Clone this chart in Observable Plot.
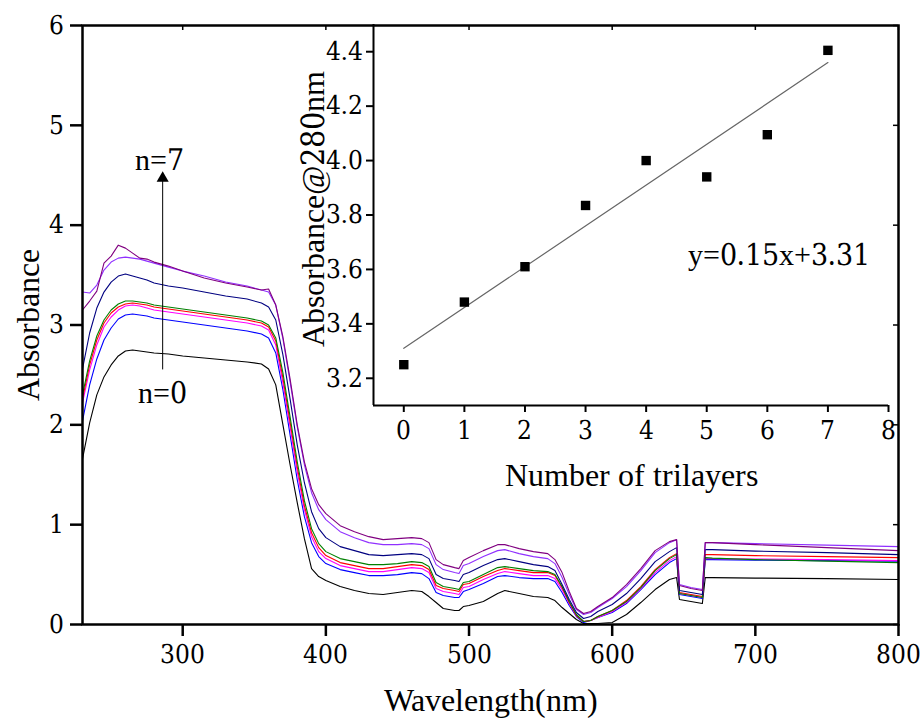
<!DOCTYPE html>
<html><head><meta charset="utf-8">
<script src="https://cdn.jsdelivr.net/npm/d3@7"></script>
<script src="https://cdn.jsdelivr.net/npm/@observablehq/plot@0.6"></script>
<style>
@font-face { font-family: "ChartSerif"; src: local("Liberation Serif"), local("LiberationSerif"), local("LiberationSerif-Regular"); unicode-range: U+0000-002F, U+003A-FFFF; }
@font-face { font-family: "ChartSerif"; src: local("DejaVu Serif Condensed"), local("DejaVuSerifCondensed"), local("DejaVu Serif"), local("DejaVuSerif"); unicode-range: U+0030-0039; }
body{margin:0;background:#fff;}
#wrap{position:relative;width:920px;height:720px;}
#wrap svg{position:absolute;}
</style></head><body><div id="wrap"></div>
<script>
// ---- main spectra ----
const wavelengths = [230,235,240,245,250,255,260,265,270,275,280,290,300,315,330,345,355,360,365,370,375,380,385,390,395,400,410,420,430,440,450,460,467,472,477,482,490,493,496,500,510,520,525,535,545,555,560,565,570,575,580,585,590,600,610,620,630,640,645,647,655,663,665,670,700,750,800];
const seriesNames = ["n=0","n=1","n=2","n=3","n=4","n=5","n=6","n=7"];
const seriesColors = ["#000000","#0000ff","#ff00ff","#ff0000","#008000","#000080","#9030ff","#800080"];
const absN0 = [1.66,2.02,2.3,2.48,2.6,2.69,2.74,2.75,2.74,2.73,2.72,2.71,2.69,2.67,2.65,2.63,2.61,2.56,2.4,2.0,1.6,1.22,0.86,0.56,0.48,0.44,0.38,0.34,0.31,0.3,0.32,0.34,0.33,0.28,0.22,0.16,0.14,0.14,0.18,0.19,0.23,0.31,0.34,0.31,0.28,0.27,0.24,0.17,0.11,0.05,0.01,0.01,0.01,0.02,0.1,0.22,0.35,0.45,0.47,0.25,0.23,0.21,0.47,0.47,0.465,0.46,0.45];
const absN1 = [2.04,2.4,2.66,2.85,2.97,3.06,3.1,3.11,3.1,3.09,3.07,3.05,3.03,3.0,2.97,2.94,2.91,2.87,2.72,2.35,1.9,1.45,1.08,0.82,0.68,0.61,0.55,0.52,0.49,0.49,0.5,0.52,0.51,0.46,0.32,0.29,0.27,0.27,0.33,0.35,0.41,0.48,0.49,0.47,0.46,0.46,0.43,0.32,0.19,0.08,0.02,0.04,0.07,0.12,0.21,0.35,0.5,0.62,0.66,0.3,0.28,0.26,0.65,0.65,0.645,0.64,0.635];
const absN2 = [2.22,2.55,2.8,2.98,3.08,3.15,3.19,3.2,3.19,3.17,3.15,3.13,3.11,3.08,3.05,3.02,2.99,2.95,2.8,2.42,1.98,1.53,1.15,0.88,0.73,0.66,0.59,0.56,0.53,0.53,0.55,0.57,0.56,0.52,0.36,0.33,0.31,0.3,0.37,0.38,0.45,0.51,0.53,0.51,0.49,0.49,0.46,0.35,0.21,0.09,0.03,0.04,0.07,0.13,0.22,0.36,0.52,0.64,0.68,0.31,0.29,0.27,0.66,0.66,0.655,0.65,0.64];
const absN3 = [2.26,2.6,2.85,3.02,3.12,3.18,3.21,3.22,3.21,3.2,3.18,3.16,3.14,3.11,3.08,3.05,3.02,2.98,2.84,2.47,2.03,1.58,1.19,0.92,0.77,0.69,0.62,0.59,0.56,0.56,0.58,0.6,0.59,0.55,0.39,0.36,0.34,0.33,0.4,0.41,0.48,0.54,0.56,0.54,0.52,0.52,0.49,0.37,0.22,0.09,0.03,0.04,0.08,0.14,0.24,0.38,0.55,0.67,0.71,0.32,0.3,0.28,0.7,0.7,0.69,0.68,0.67];
const absN4 = [2.3,2.64,2.89,3.05,3.15,3.21,3.24,3.24,3.23,3.22,3.2,3.18,3.16,3.13,3.1,3.07,3.04,3.0,2.87,2.52,2.08,1.63,1.24,0.96,0.81,0.73,0.66,0.63,0.6,0.6,0.61,0.63,0.62,0.58,0.42,0.38,0.36,0.35,0.42,0.43,0.5,0.57,0.58,0.56,0.54,0.53,0.5,0.38,0.23,0.1,0.03,0.04,0.08,0.14,0.23,0.37,0.54,0.66,0.7,0.31,0.29,0.27,0.67,0.665,0.65,0.635,0.62];
const absN5 = [2.56,2.92,3.17,3.33,3.43,3.49,3.51,3.49,3.47,3.45,3.42,3.39,3.37,3.33,3.29,3.26,3.22,3.18,3.05,2.7,2.26,1.8,1.42,1.13,0.96,0.87,0.78,0.74,0.7,0.69,0.7,0.71,0.7,0.66,0.5,0.46,0.44,0.43,0.5,0.52,0.59,0.65,0.66,0.63,0.6,0.58,0.54,0.4,0.25,0.12,0.06,0.08,0.13,0.2,0.31,0.46,0.63,0.73,0.77,0.34,0.32,0.3,0.75,0.75,0.735,0.72,0.7];
const absN6 = [3.33,3.32,3.4,3.55,3.63,3.67,3.68,3.67,3.66,3.64,3.62,3.58,3.54,3.49,3.43,3.39,3.35,3.33,3.2,2.86,2.43,1.98,1.6,1.32,1.15,1.05,0.93,0.87,0.82,0.8,0.8,0.81,0.8,0.76,0.6,0.55,0.52,0.51,0.59,0.61,0.68,0.74,0.75,0.71,0.68,0.66,0.61,0.47,0.3,0.15,0.1,0.12,0.17,0.26,0.38,0.54,0.72,0.82,0.85,0.4,0.37,0.35,0.82,0.82,0.81,0.795,0.78];
const absN7 = [3.15,3.24,3.34,3.62,3.69,3.8,3.77,3.72,3.67,3.66,3.63,3.59,3.54,3.47,3.42,3.38,3.35,3.36,3.2,2.88,2.46,2.0,1.63,1.36,1.2,1.11,0.99,0.93,0.88,0.85,0.86,0.87,0.86,0.82,0.65,0.6,0.57,0.56,0.64,0.67,0.74,0.8,0.8,0.76,0.73,0.71,0.65,0.52,0.33,0.16,0.11,0.13,0.18,0.27,0.4,0.56,0.74,0.83,0.85,0.39,0.36,0.34,0.82,0.82,0.8,0.77,0.74];
const seriesValues = [absN0,absN1,absN2,absN3,absN4,absN5,absN6,absN7];
const mainXDomain = [230,800];
const mainYDomain = [0,6];
const mainXTicks = [300,400,500,600,700,800];
const mainYTicks = [0,1,2,3,4,5,6];
const annotationLabels = [{text:"n=7", x:284, y:4.65},{text:"n=0", x:286, y:2.31}];
const arrowSpec = [{x:286, y1:2.55, y2:4.47}];

// ---- inset ----
const trilayers = [0,1,2,3,4,5,6,7];
const abs280 = [3.25,3.48,3.61,3.835,4.0,3.94,4.095,4.405];
const fitSlope = 0.15, fitIntercept = 3.31;
const fitRange = [0,7];
const insetXDomain = [-0.5,8];
const insetYDomain = [3.1,4.5];
const insetXTicks = [0,1,2,3,4,5,6,7,8];
const insetYTicks = [3.2,3.4,3.6,3.8,4.0,4.2,4.4];
const equationLabel = [{text:"y=0.15x+3.31", x:6.2, y:3.652}];

const font = "ChartSerif, 'Liberation Serif', serif";
const spectra = [];
seriesNames.forEach((name, s) => wavelengths.forEach((w, i) => spectra.push({series:name, w, a:seriesValues[s][i]})));
const points = trilayers.map((n, i) => ({n, a:abs280[i]}));
const fitLine = fitRange.map(x => ({x, y: fitSlope*x + fitIntercept}));

const main = Plot.plot({
  width:920, height:720, marginLeft:82, marginRight:22, marginTop:25, marginBottom:96,
  style:`font-family: ${font}; font-size: 26px; color: #000; background: white;`,
  x:{domain:mainXDomain}, y:{domain:mainYDomain},
  color:{domain:seriesNames, range:seriesColors},
  marks:[
    Plot.line(spectra, {x:"w", y:"a", z:"series", stroke:"series", strokeWidth:1.1}),
    Plot.frame({stroke:"#000", strokeWidth:2.5}),
    Plot.axisX({ticks:mainXTicks, tickSize:12, tickPadding:8, strokeWidth:2.5, fontSize:26, fontFamily:font, tickFormat:d3.format("d"), label:null}),
    Plot.axisY({ticks:mainYTicks, tickSize:12, tickPadding:7, strokeWidth:2.5, fontSize:26, fontFamily:font, tickFormat:d3.format("d"), label:null}),
    Plot.ruleX(mainXTicks, {y1:mainYDomain[1], y2:mainYDomain[1]-0.05, strokeWidth:1.5}),
    Plot.ruleY(mainYTicks, {x1:mainXDomain[1], x2:mainXDomain[1]-3.5, strokeWidth:1.5}),
    Plot.ruleX(arrowSpec, {x:"x", y1:"y1", y2:"y2", stroke:"#000", strokeWidth:1}),
    Plot.dot(arrowSpec, {x:"x", y:"y2", symbol:"triangle", r:4.5, fill:"#000", stroke:null}),
    Plot.text(annotationLabels, {x:"x", y:"y", text:"text", fontSize:30, fontFamily:font}),
    Plot.text(["Wavelength(nm)"], {frameAnchor:"bottom", lineAnchor:"middle", textAnchor:"middle", dy:76, fontSize:32, fontFamily:font}),
    Plot.text(["Absorbance"], {frameAnchor:"left", textAnchor:"middle", lineAnchor:"middle", dx:-54, rotate:-90, fontSize:32, fontFamily:font})
  ]
});

const inset = Plot.plot({
  width:620, height:500, marginLeft:90, marginRight:15, marginTop:24, marginBottom:95,
  style:`font-family: ${font}; font-size: 26px; color: #000; background: transparent;`,
  x:{domain:insetXDomain}, y:{domain:insetYDomain},
  marks:[
    Plot.axisX({ticks:insetXTicks, tickSize:7, tickPadding:8, strokeWidth:2, fontSize:26, fontFamily:font, tickFormat:d3.format("d"), label:null}),
    Plot.axisY({ticks:insetYTicks, tickSize:7, tickPadding:4, strokeWidth:2, fontSize:26, fontFamily:font, tickFormat:d3.format(".1f"), label:null}),
    Plot.ruleX([insetXDomain[0]], {strokeWidth:2}),
    Plot.ruleY([insetYDomain[0]], {strokeWidth:2}),
    Plot.line(fitLine, {x:"x", y:"y", stroke:"#666", strokeWidth:1.2}),
    Plot.dot(points, {x:"n", y:"a", symbol:"square", r:5.3, fill:"#000", stroke:null}),
    Plot.text(["Number of trilayers"], {frameAnchor:"bottom", lineAnchor:"middle", textAnchor:"middle", dy:70, fontSize:32, fontFamily:font}),
    Plot.text(["Absorbance@280nm"], {frameAnchor:"left", textAnchor:"middle", lineAnchor:"middle", dx:-60, dy:-6, rotate:-90, fontSize:32, fontFamily:font}),
    Plot.text(equationLabel, {x:"x", y:"y", text:"text", fontSize:30, fontFamily:font})
  ]
});
main.style.left = "0px"; main.style.top = "0px";
inset.style.left = "283px"; inset.style.top = "0px";
const wrap = document.getElementById("wrap");
wrap.appendChild(main);
wrap.appendChild(inset);
</script></body></html>
